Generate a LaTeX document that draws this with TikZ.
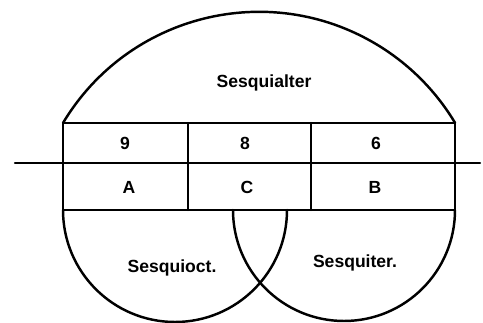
\documentclass[tikz,border=0pt]{standalone}
\usepackage{fontspec}
\setmainfont{Liberation Sans}
\begin{document}
\begin{tikzpicture}[x=0.02cm, y=0.02cm,
    rim/.style={line width=1.4pt, line cap=round},
    lbl/.style={font=\bfseries\normalsize}]
  \useasboundingbox (0,0) rectangle (483,323);

  % upper half circle: Sesquialter
  \draw[rim] (63,200) arc[start angle=149.1, end angle=30.9, radius=228.5];
  \node[lbl] (sesquialter) at (264,240) {Sesquialter};

  % band of the three numbers
  \draw[rim] (63,113) rectangle (455,200);
  \draw[rim] (188,113) -- (188,200);
  \draw[rim] (311,113) -- (311,200);
  % the axis through the band
  \draw[rim] (15,160) -- (480,160);

  \node[lbl] (n9) at (125,180) {9};
  \node[lbl] (n8) at (245,180) {8};
  \node[lbl] (n6) at (376,180) {6};
  \node[lbl] (ca) at (129,136) {A};
  \node[lbl] (cc) at (247,136) {C};
  \node[lbl] (cb) at (375,136) {B};

  % lower half circles, overlapping under C
  \draw[rim] (63,113) arc[start angle=180, end angle=360, radius=112];
  \draw[rim] (233,113) arc[start angle=180, end angle=360, radius=111];
  \node[lbl] (sesquioct) at (172,55) {Sesquioct.};
  \node[lbl] (sesquiter) at (355,60) {Sesquiter.};
\end{tikzpicture}
\end{document}
